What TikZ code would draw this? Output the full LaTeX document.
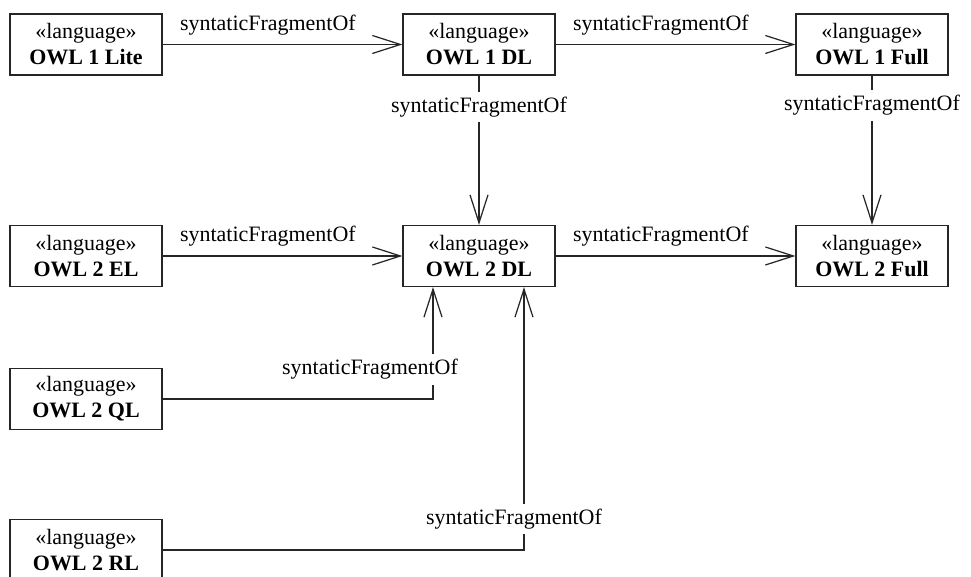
\documentclass[tikz,border=0pt]{standalone}
\usepackage{fontspec}
\setmainfont{Liberation Serif}
\usetikzlibrary{positioning,arrows.meta}

\begin{document}
\begin{tikzpicture}[x=0.02cm,y=0.02cm,
		every node/.style={font=\fontsize{12.5}{14.8}\selectfont},
		lang/.style={draw=black!85,line width=0.7pt,minimum width=3.04cm,
			minimum height=1.22cm,align=center,inner sep=1pt},
		frag/.style={draw=black!85,line width=0.7pt,
			-{Straight Barb[length=5.6mm,width=3.6mm]}},
		fraglbl/.style={fill=white,inner sep=3pt}
	]
	\useasboundingbox (0,0) rectangle (971,577);

	% OWL 1 row
	\node[lang] (lite)  at (86,532.5)  {«language»\\\textbf{OWL 1 Lite}};
	\node[lang] (dlA)   at (479,532.5) {«language»\\\textbf{OWL 1 DL}};
	\node[lang] (fullA) at (872,532.5) {«language»\\\textbf{OWL 1 Full}};

	% OWL 2 row
	\node[lang] (el)    at (86,321)    {«language»\\\textbf{OWL 2 EL}};
	\node[lang] (dlB)   at (479,321)   {«language»\\\textbf{OWL 2 DL}};
	\node[lang] (fullB) at (872,321)   {«language»\\\textbf{OWL 2 Full}};

	% Profiles below
	\node[lang] (ql) at (86,178) {«language»\\\textbf{OWL 2 QL}};
	\node[lang] (rl) at (86,27)  {«language»\\\textbf{OWL 2 RL}};

	% Horizontal relations
	\draw[frag] (lite) -- node[pos=0,anchor=base west,xshift=0.22cm,yshift=0.28cm] {syntaticFragmentOf} (dlA);
	\draw[frag] (dlA) -- node[pos=0,anchor=base west,xshift=0.22cm,yshift=0.28cm] {syntaticFragmentOf} (fullA);
	\draw[frag] (el) -- node[pos=0,anchor=base west,xshift=0.22cm,yshift=0.28cm] {syntaticFragmentOf} (dlB);
	\draw[frag] (dlB) -- node[pos=0,anchor=base west,xshift=0.22cm,yshift=0.28cm] {syntaticFragmentOf} (fullB);

	% Vertical relations
	\draw[frag] (dlA) -- node[fraglbl,pos=0.21] {syntaticFragmentOf} (dlB);
	\draw[frag] (fullA) -- node[fraglbl,pos=0.2] {syntaticFragmentOf} (fullB);

	% Profiles into OWL 2 DL
	\draw[frag] (ql) -| node[fraglbl,pos=0.633,xshift=-1.26cm] {syntaticFragmentOf} ([xshift=-0.92cm]dlB.south);
	\draw[frag] (rl) -| node[fraglbl,pos=0.559,xshift=-0.2cm] {syntaticFragmentOf} ([xshift=0.9cm]dlB.south);

\end{tikzpicture}
\end{document}
